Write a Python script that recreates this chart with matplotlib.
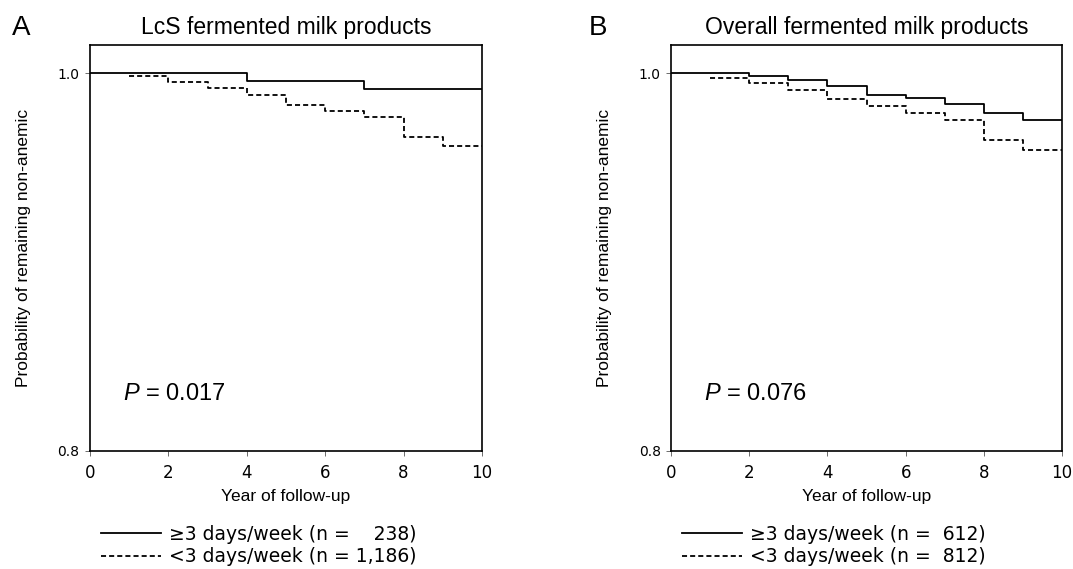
import numpy as np
import matplotlib
matplotlib.use('Agg')
import matplotlib.pyplot as plt

# Kaplan-Meier step values
lcs_hi_years = [0, 4, 7, 10]
lcs_hi_surv = [1.0, 0.9959, 0.9917, 0.9917]
lcs_lo_years = [1, 2, 3, 4, 5, 6, 7, 8, 9, 10]
lcs_lo_surv = [0.9986, 0.9956, 0.9924, 0.9887, 0.9834, 0.9798, 0.9767, 0.9664, 0.9613, 0.9613]

all_hi_years = [0, 2, 3, 4, 5, 6, 7, 8, 9, 10]
all_hi_surv = [1.0, 0.9984, 0.9965, 0.9934, 0.9887, 0.9871, 0.9839, 0.9790, 0.9754, 0.9754]
all_lo_years = [1, 2, 3, 4, 5, 6, 7, 8, 9, 10]
all_lo_surv = [0.9977, 0.9950, 0.9913, 0.9864, 0.9828, 0.9791, 0.9754, 0.9645, 0.9595, 0.9595]

titles = ['LcS fermented milk products', 'Overall fermented milk products']
letters = ['A', 'B']
pvalues = ['0.017', '0.076']
labels_hi = ['\u22653 days/week (n = \u2007\u2008238)', '\u22653 days/week (n =  612)']
labels_lo = ['<3 days/week (n = 1,186)', '<3 days/week (n =  812)']

plt.rcParams['mathtext.fontset'] = 'custom'
plt.rcParams['mathtext.it'] = 'Liberation Sans:italic'
plt.rcParams['mathtext.rm'] = 'Liberation Sans'

sans = 'Liberation Sans'

fig = plt.figure(figsize=(10.73, 5.69), dpi=100)
positions = [[0.0839, 0.2074, 0.3653, 0.7135], [0.6254, 0.2074, 0.3644, 0.7135]]
data = [(lcs_hi_years, lcs_hi_surv, lcs_lo_years, lcs_lo_surv),
        (all_hi_years, all_hi_surv, all_lo_years, all_lo_surv)]
letter_x = [12, 589]

for i in range(2):
    ax = fig.add_axes(positions[i])
    hx, hy, lx, ly = data[i]
    ax.step(hx, hy, where='post', color='black', lw=1.3, label=labels_hi[i])
    ax.step(lx, ly, where='post', color='black', lw=1.3, dashes=(2.8, 1.7),
            label=labels_lo[i])
    ax.set_xlim(0, 10)
    ax.set_ylim(0.8, 1.015)
    ax.set_xticks([0, 2, 4, 6, 8, 10])
    ax.set_yticks([0.8, 1.0])
    ax.set_yticklabels(['0.8', '1.0'], fontsize=10, family='DejaVu Sans')
    ax.set_xticklabels(['0', '2', '4', '6', '8', '10'], fontsize=12, family='DejaVu Sans')
    ax.tick_params(direction='out', length=3.5, width=0.6, color='#555555', pad=4)
    ax.tick_params(axis='x', pad=6)
    for s in ax.spines.values():
        s.set_linewidth(1.2)
    ax.set_xlabel('Year of follow-up', family=sans, fontsize=12.5, labelpad=5)
    ax.set_ylabel('Probability of remaining non-anemic', family=sans, fontsize=12.5,
                  labelpad=19)
    ax.set_title(titles[i], family=sans, fontsize=16.5, pad=8)
    ax.text(0.84, 0.83, r'$P$ = ' + pvalues[i], family=sans, fontsize=17, va='center')
    leg = ax.legend(loc='upper left', bbox_to_anchor=(0.01, -0.163), frameon=False,
                    handlelength=3.2, handletextpad=0.4, labelspacing=0.2,
                    prop={'family': 'DejaVu Sans', 'size': 13.5}, borderaxespad=0)
    fig.text(letter_x[i] / 1073, 1 - 35 / 569, letters[i], family=sans, fontsize=20,
             va='baseline')

fig.savefig('out.png', dpi=100)
